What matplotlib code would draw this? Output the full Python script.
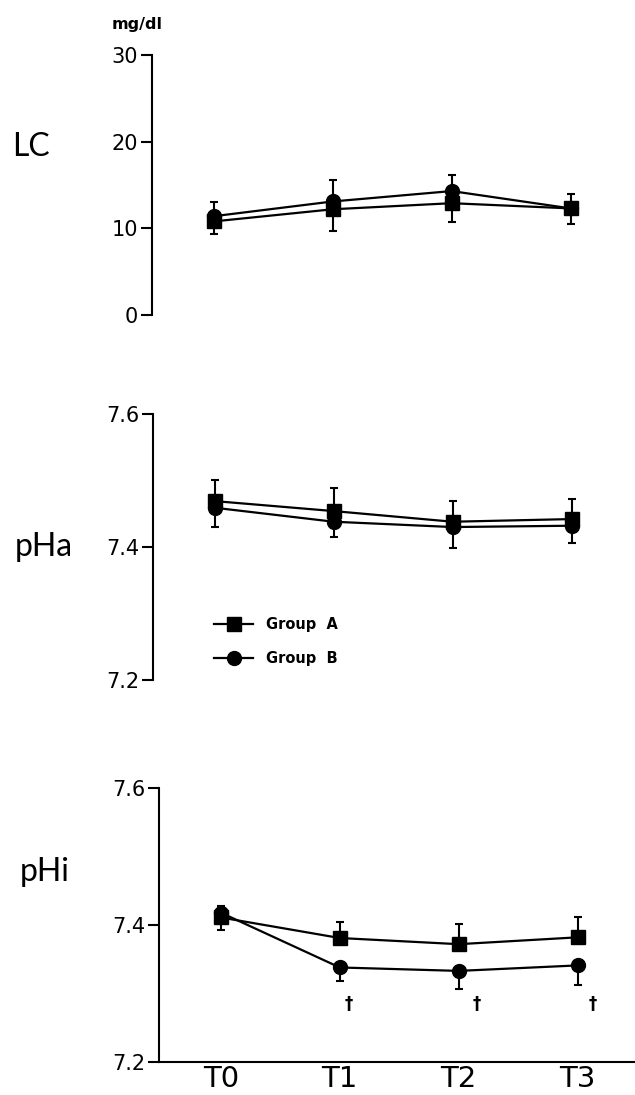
import matplotlib
matplotlib.use('Agg')
import matplotlib.pyplot as plt
from matplotlib.lines import Line2D

plt.rcParams['font.family'] = ['DejaVu Sans']

times = ['T0', 'T1', 'T2', 'T3']

# LC (mg/dl)
lc_a = [10.8, 12.2, 12.9, 12.3]
lc_a_err = [1.4, 2.5, 2.2, 1.8]      # drawn downward
lc_b = [11.4, 13.1, 14.3, 12.3]
lc_b_err = [1.6, 2.5, 1.9, 1.7]      # drawn upward

# pHa
pha_a = [7.469, 7.454, 7.438, 7.442]
pha_a_err = [0.032, 0.035, 0.031, 0.030]   # upward
pha_b = [7.459, 7.438, 7.430, 7.432]
pha_b_err = [0.029, 0.023, 0.032, 0.026]   # downward

# pHi
phi_a = [7.411, 7.381, 7.372, 7.382]
phi_a_err = [0.017, 0.023, 0.029, 0.029]   # upward
phi_b = [7.418, 7.338, 7.333, 7.341]
phi_b_err = [0.025, 0.020, 0.026, 0.029]   # downward

dagger_x = [1.08, 2.15, 3.13]
dagger_y = [7.285, 7.285, 7.285]

W, H = 635, 1095
fig = plt.figure(figsize=(W / 100, H / 100), dpi=100)


def add_axes(left, top, right, bottom):
    return fig.add_axes([left / W, 1 - bottom / H, (right - left) / W, (bottom - top) / H])


def draw_panel(ax, a, a_err, a_up, b, b_err, b_up):
    x = list(range(len(times)))
    zeros = [0] * len(times)
    a_yerr = [zeros, a_err] if a_up else [a_err, zeros]
    b_yerr = [zeros, b_err] if b_up else [b_err, zeros]
    ax.errorbar(x, a, yerr=a_yerr, color='black', marker='s', markersize=9.5,
                linewidth=1.6, elinewidth=1.5, capsize=3, capthick=1.5, zorder=3)
    ax.errorbar(x, b, yerr=b_yerr, color='black', marker='o', markersize=10,
                linewidth=1.6, elinewidth=1.5, capsize=3, capthick=1.5, zorder=3)
    ax.set_xlim(-0.52, 3.5)
    for side in ['top', 'right']:
        ax.spines[side].set_visible(False)
    ax.spines['left'].set_linewidth(1.5)
    ax.spines['bottom'].set_linewidth(1.5)
    ax.tick_params(axis='y', direction='out', length=8, width=1.5, labelsize=15, pad=2)


ax1 = add_axes(152, 55, 630, 315)
draw_panel(ax1, lc_a, lc_a_err, False, lc_b, lc_b_err, True)
ax1.set_ylim(0, 30)
ax1.set_yticks([0, 10, 20, 30])
ax1.spines['bottom'].set_visible(False)
ax1.set_xticks([])
fig.text(137 / W, 1 - 24 / H, 'mg/dl', ha='center', va='center',
         fontsize=11.5, fontweight='bold')

ax2 = add_axes(153, 414, 631, 680)
draw_panel(ax2, pha_a, pha_a_err, True, pha_b, pha_b_err, False)
ax2.set_ylim(7.2, 7.6)
ax2.set_yticks([7.2, 7.4, 7.6])
ax2.set_yticklabels(['7.2', '7.4', '7.6'])
ax2.spines['bottom'].set_visible(False)
ax2.set_xticks([])

handles = [Line2D([], [], color='black', marker='s', markersize=9.5, linewidth=1.6),
           Line2D([], [], color='black', marker='o', markersize=10, linewidth=1.6)]
leg = ax2.legend(handles, ['Group  A', 'Group  B'], loc='upper left', frameon=False,
                 bbox_to_anchor=(214 / W, 1 - 617 / H), bbox_transform=fig.transFigure,
                 borderpad=0, borderaxespad=0, handlelength=2.7, handletextpad=0.9,
                 labelspacing=1.3, prop={'size': 10.5, 'weight': 'bold'})

ax3 = add_axes(159, 788, 637, 1062)
draw_panel(ax3, phi_a, phi_a_err, True, phi_b, phi_b_err, False)
ax3.set_ylim(7.2, 7.6)
ax3.set_yticks([7.2, 7.4, 7.6])
ax3.set_yticklabels(['7.2', '7.4', '7.6'])
ax3.set_xticks(range(len(times)))
ax3.set_xticklabels(times)
ax3.tick_params(axis='x', length=0, labelsize=21, pad=2)
for dx, dy in zip(dagger_x, dagger_y):
    ax3.text(dx, dy, '\u2020', ha='center', va='center', fontsize=12, fontweight='bold')

fig.text(12 / W, 1 - 147 / H, 'LC', fontsize=23, va='center', ha='left', family='Lato')
fig.text(15 / W, 1 - 547 / H, 'pHa', fontsize=23, va='center', ha='left', family='Lato')
fig.text(20 / W, 1 - 872 / H, 'pHi', fontsize=23, va='center', ha='left', family='Lato')

fig.savefig('out.png', dpi=100)
